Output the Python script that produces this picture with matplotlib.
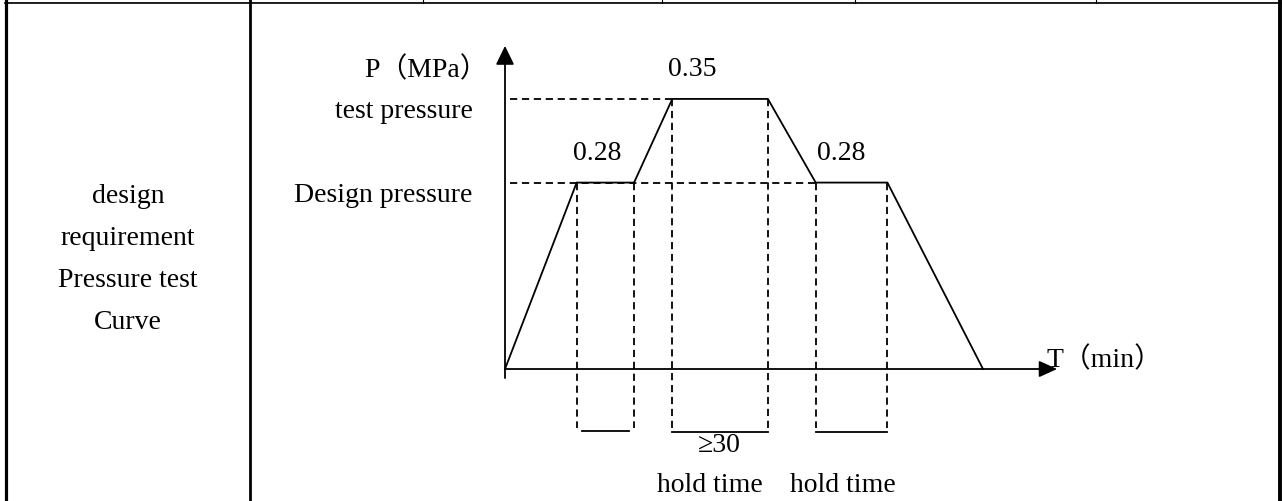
import matplotlib
matplotlib.use("Agg")
import matplotlib.pyplot as plt

# ---------------------------------------------------------------------------
# Data: schematic pressure test curve (time in schematic units, not to scale)
# ---------------------------------------------------------------------------
curve_t = [0, 1.5, 2.7, 3.5, 5.5, 6.5, 8.0, 10.0]
curve_p = [0, 0.28, 0.28, 0.35, 0.35, 0.28, 0.28, 0]

# drawing height of each pressure level (the sketch is not to scale)
level_height = {0: 0.0, 0.28: 3.9, 0.35: 5.65}

# hold windows (start, end) on the time axis
hold_start = [1.5, 3.5, 6.5]
hold_end = [2.7, 5.5, 8.0]

plateau_labels = ["0.28", "0.35", "0.28"]
plateau_label_x = [1.92, 3.91, 7.03]

axis_x_label = "T（min）"
axis_y_label = "P（MPa）"
level_names = ["test pressure", "Design pressure"]
left_cell_lines = ["design", "requirement", "Pressure test", "Curve"]

# ---------------------------------------------------------------------------
W, H = 1282, 502
U = 47.8          # pixels per schematic unit
OX, OY = 505, 370  # origin of the sketch in pixels (from top-left)

FONT = ["Liberation Serif", "Noto Sans CJK SC", "DejaVu Sans"]
FS = 20
LW = 1.3

fig = plt.figure(figsize=(W / 100, H / 100), dpi=100)

# table frame, pixel coordinates
tab = fig.add_axes([0, 0, 1, 1])
tab.set_xlim(0, W)
tab.set_ylim(H, 0)
tab.axis("off")

tab.plot([5, 1281], [2.5, 2.5], color="#aaaaaa", lw=0.6)
tab.plot([5, 1281], [4, 4], color="black", lw=1.2)
for xv in [423, 662, 855, 1096]:
    tab.plot([xv, xv], [0, 4], color="black", lw=0.8)
tab.plot([6, 6], [0, H], color="black", lw=2.3)
tab.plot([249.5, 249.5], [0, H], color="black", lw=2.0)
tab.plot([1279.5, 1279.5], [0, H], color="black", lw=2.8)

for i, line in enumerate(left_cell_lines):
    tab.text(128, 203 + 42 * i, line, ha="center", va="baseline",
             fontsize=FS, family=FONT)

# sketch, schematic units
ax = fig.add_axes([0, 0, 1, 1])
ax.set_xlim(-OX / U, (W - OX) / U)
ax.set_ylim(-(H - OY) / U, OY / U)
ax.axis("off")
ax.patch.set_alpha(0)

heights = [level_height[p] for p in curve_p]
ax.plot(curve_t, heights, color="black", lw=LW, solid_joinstyle="miter")

# axes with arrows
arrow_y = dict(arrowstyle="-|>,head_length=11.5,head_width=5.6",
               mutation_scale=1, color="black", lw=LW, shrinkA=0, shrinkB=0)
ax.annotate("", xy=(0, 6.76), xytext=(0, -0.19), arrowprops=arrow_y)
arrow_x = dict(arrowstyle="-|>,head_length=11,head_width=5.0",
               mutation_scale=1, color="black", lw=LW, shrinkA=0, shrinkB=0)
ax.annotate("", xy=(11.55, 0), xytext=(0, 0), arrowprops=arrow_x)

dash = (0, (4, 2.6))
# horizontal guide lines
ax.plot([0.1, curve_t[3]], [level_height[0.35]] * 2, color="black", lw=LW, ls=dash)
ax.plot([0.1, curve_t[5]], [level_height[0.28]] * 2, color="black", lw=LW, ls=dash)

# hold-time boxes
box_bottom = -1.24
for k, (a, b) in enumerate(zip(hold_start, hold_end)):
    top_a = heights[curve_t.index(a)]
    top_b = heights[curve_t.index(b)]
    ax.plot([a, a], [top_a, box_bottom], color="black", lw=LW, ls=dash)
    ax.plot([b, b], [top_b, box_bottom], color="black", lw=LW, ls=dash)
    if k == 0:
        ax.plot([a + 0.11, b - 0.11], [-1.30, -1.30], color="black", lw=LW)
    else:
        ax.plot([a, b], [-1.32, -1.32], color="black", lw=LW)

# labels
for lab, lx, p in zip(plateau_labels, plateau_label_x, [0.28, 0.35, 0.28]):
    ly = 6.15 if p == 0.35 else 4.39
    ax.text(lx, ly, lab, ha="center", va="baseline", fontsize=FS, family=FONT)

ax.text(-0.36, 6.13, axis_y_label, ha="right", va="baseline", fontsize=FS, family=FONT)
ax.text(-0.67, 5.27, level_names[0], ha="right", va="baseline", fontsize=FS, family=FONT)
ax.text(-0.69, 3.51, level_names[1], ha="right", va="baseline", fontsize=FS, family=FONT)
ax.text(11.32, 0.06, axis_x_label, ha="left", va="baseline", fontsize=FS, family=FONT)

ax.text(4.48, -1.72, "≥30", ha="center", va="baseline", fontsize=FS, family=FONT)
ax.text(4.29, -2.55, "hold time", ha="center", va="baseline", fontsize=FS, family=FONT)
ax.text(7.07, -2.55, "hold time", ha="center", va="baseline", fontsize=FS, family=FONT)

fig.savefig("out.png", dpi=100)
